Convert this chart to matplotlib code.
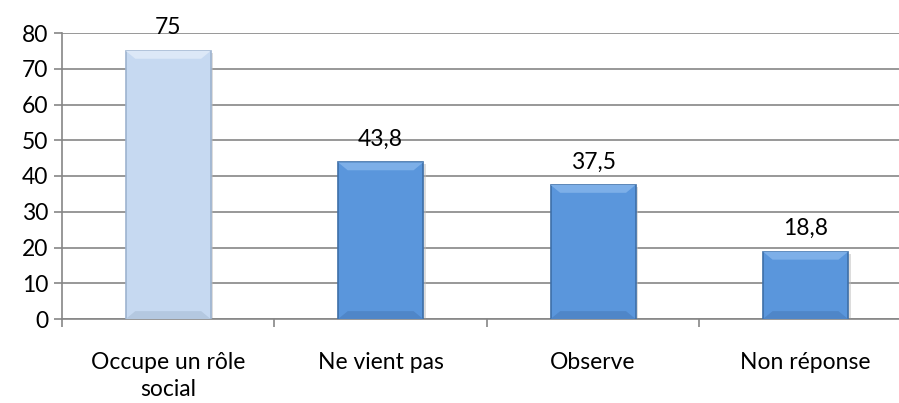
import matplotlib.pyplot as plt
from matplotlib.patches import Polygon
import numpy as np

# data
categories = ['Occupe un rôle\nsocial', 'Ne vient pas', 'Observe', 'Non réponse']
values = [75, 43.8, 37.5, 18.8]
value_labels = ['75', '43,8', '37,5', '18,8']
bar_colors = ['#C6D9F1', '#5A96DC', '#5A96DC', '#5A96DC']
top_colors = ['#DCE8F7', '#7DAFE8', '#7DAFE8', '#7DAFE8']
bottom_colors = ['#B4C8E0', '#4F86C8', '#4F86C8', '#4F86C8']
edge_colors = ['#9DB3CF', '#3E6FA8', '#3E6FA8', '#3E6FA8']

plt.rcParams['font.family'] = ['Lato', 'DejaVu Sans']
fs = 16.5

fig = plt.figure(figsize=(8.99, 4.03), dpi=100)
ax = fig.add_axes([62 / 899, 1 - 319 / 403, 1 - 62 / 899, (319 - 33) / 403])

x = np.arange(len(categories))
width = 0.40

# soft shadow behind the bars
ax.bar(x + 0.012, values, width, bottom=-0.5, color='#BBBBBB', alpha=0.5, zorder=2)
bars = ax.bar(x, values, width, color=bar_colors, edgecolor=edge_colors, linewidth=1.2, zorder=3)

# bevel look: lighter cap on top, darker band at the bottom
dx, dy = 0.045, 2.2
for xi, v, tc, bc in zip(x, values, top_colors, bottom_colors):
    l, r = xi - width / 2, xi + width / 2
    ax.add_patch(Polygon([(l, v), (r, v), (r - dx, v - dy), (l + dx, v - dy)],
                         closed=True, facecolor=tc, edgecolor='none', zorder=4))
    ax.add_patch(Polygon([(l, 0), (r, 0), (r - dx, dy), (l + dx, dy)],
                         closed=True, facecolor=bc, edgecolor='none', zorder=4))

for xi, v, lab in zip(x, values, value_labels):
    ax.annotate(lab, (xi, v), xytext=(0, 9), textcoords='offset points',
                ha='center', va='bottom', fontsize=fs, color='black', clip_on=False)

ax.set_yticks(range(0, 81, 10))
ax.set_xticks(x)
ax.set_xticklabels(categories, linespacing=1.35)
ax.set_xticks(np.arange(-0.5, 3.4, 1), minor=True)
ax.set_ylim(0, 80)
ax.set_xlim(-0.5, 3.44)

ax.yaxis.grid(True, color='#868686', linewidth=1.2, zorder=0)
ax.set_axisbelow(True)

for side in ['top', 'right']:
    ax.spines[side].set_visible(False)
for side in ['left', 'bottom']:
    ax.spines[side].set_color('#868686')
    ax.spines[side].set_linewidth(1.2)

ax.tick_params(axis='y', length=6, width=1.2, color='#868686', labelsize=fs, pad=4)
ax.tick_params(axis='x', which='major', length=0, labelsize=fs, pad=24)
ax.tick_params(axis='x', which='minor', length=6, width=1.2, color='#868686')

fig.savefig('out.png', dpi=100)
